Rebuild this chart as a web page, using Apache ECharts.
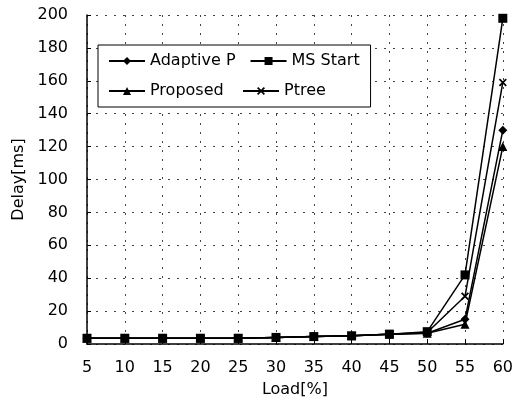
<!DOCTYPE html>
<html><head><meta charset="utf-8">
<script src="https://cdn.jsdelivr.net/npm/echarts@6/dist/echarts.min.js"></script>
<style>html,body{margin:0;padding:0;background:#fff}#c{width:516px;height:403px}</style>
</head><body><div id="c"></div>
<script>
const loads = [5,10,15,20,25,30,35,40,45,50,55,60];
const adaptiveP = [3.5,3.5,3.5,3.5,3.5,4,4.5,5,6,6.5,15,130];
const msStart   = [3.5,3.5,3.5,3.5,3.5,4,4.5,5,6,7.5,42,198];
const proposed  = [3.5,3.5,3.5,3.5,3.5,4,4.5,5,6,6.5,12,120];
const ptree     = [3.5,3.5,3.5,3.5,3.5,4,4.5,5,6,7,29,159];
const seriesNames = ['Adaptive P','MS Start','Proposed','Ptree'];
const xSym = 'path://M0,1.5L1.5,0L5,3.5L8.5,0L10,1.5L6.5,5L10,8.5L8.5,10L5,6.5L1.5,10L0,8.5L3.5,5Z';
const symbols = ['diamond','rect','triangle',xSym];
const values = [adaptiveP, msStart, proposed, ptree];
const font = 'DejaVu Sans';
const chart = echarts.init(document.getElementById('c'));
const grid = {type:[2,7], color:'#444', width:1};
chart.setOption({
  animation:false,
  backgroundColor:'#fff',
  textStyle:{fontFamily:font, color:'#000'},
  grid:{left:87, right:9, top:15, bottom:59},
  legend:{
    left:98, top:45, orient:'horizontal', width:268,
    padding:[8,1,8,10], itemGap:14, itemWidth:36, itemHeight:10,
    borderColor:'#000', borderWidth:1, backgroundColor:'#fff',
    textStyle:{fontFamily:font, fontSize:16, color:'#000', width:78, lineHeight:16},
    data:seriesNames
  },
  xAxis:{
    type:'value', min:5, max:60, interval:5,
    name:'Load[%]', nameLocation:'middle', nameGap:38,
    nameTextStyle:{fontFamily:font, fontSize:16, color:'#000'},
    axisLine:{show:true, lineStyle:{color:'#000', width:1.5}},
    axisTick:{show:true, inside:true, length:5, lineStyle:{color:'#000'}},
    axisLabel:{fontFamily:font, fontSize:16, color:'#000', margin:16},
    splitLine:{show:true, lineStyle:grid}
  },
  yAxis:{
    type:'value', min:0, max:200, interval:20,
    name:'Delay[ms]', nameLocation:'middle', nameGap:60,
    nameTextStyle:{fontFamily:font, fontSize:16, color:'#000'},
    axisLine:{show:true, lineStyle:{color:'#000', width:1.5}},
    axisTick:{show:true, inside:true, length:4, lineStyle:{color:'#000'}},
    axisLabel:{fontFamily:font, fontSize:16, color:'#000', margin:19},
    splitLine:{show:true, lineStyle:grid}
  },
  series: seriesNames.map((n,i)=>({
    name:n, type:'line',
    data: loads.map((x,j)=>[x, values[i][j]]),
    symbol:symbols[i], symbolSize: i===3 ? 8 : 9,
    showAllSymbol:true,
    lineStyle:{color:'#000', width:1.5},
    itemStyle:{color:'#000'}
  }))
});
</script></body></html>
